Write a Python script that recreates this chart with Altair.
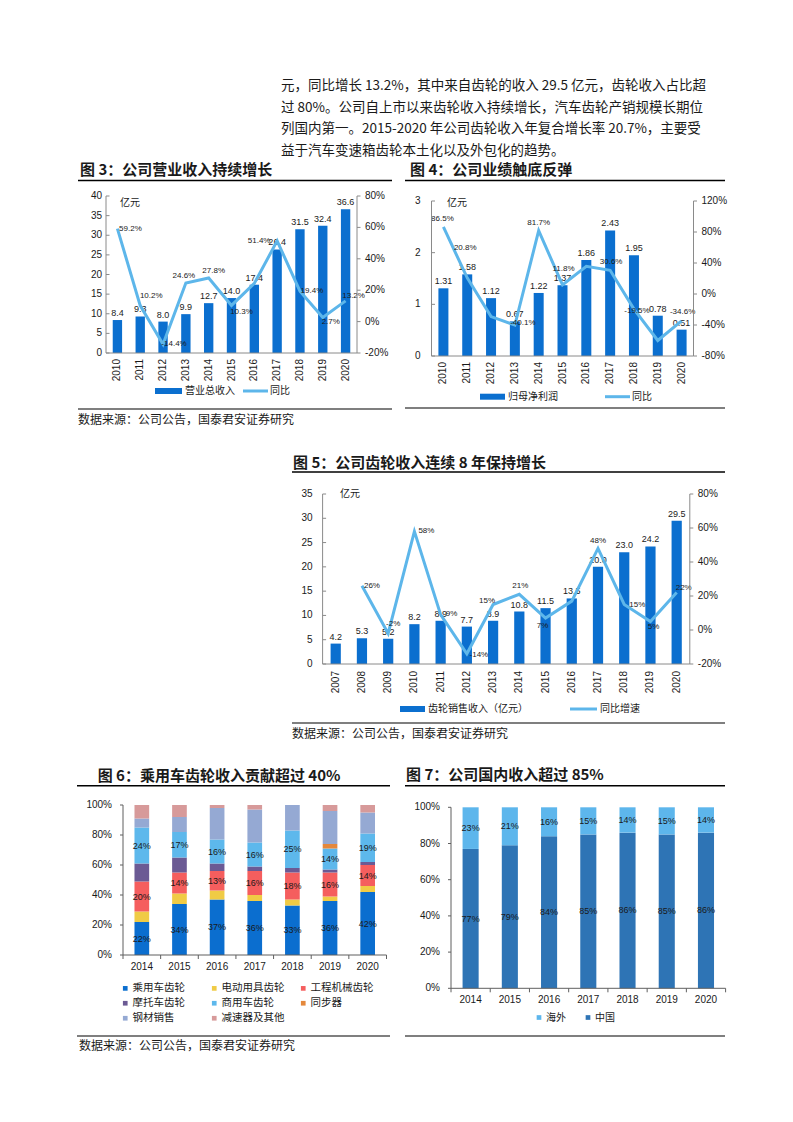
import altair as alt
import pandas as pd

CJK = "Noto Sans CJK SC"
LAT = "Liberation Sans"
INK = "#1a1a1a"
AXC = "#8a8a8a"
AXC2 = "#5f5f5f"
BAR_BLUE = "#0B6FCF"
LINE_BLUE = "#5DB6EA"
W, H = 777, 1100

# ---------------- data ----------------
para_lines = [
    "元，同比增长 13.2%，其中来自齿轮的收入 29.5 亿元，齿轮收入占比超",
    "过 80%。公司自上市以来齿轮收入持续增长，汽车齿轮产销规模长期位",
    "列国内第一。2015-2020 年公司齿轮收入年复合增长率 20.7%，主要受",
    "益于汽车变速箱齿轮本土化以及外包化的趋势。",
]

years_10_20 = ["2010", "2011", "2012", "2013", "2014", "2015", "2016", "2017", "2018", "2019", "2020"]
revenue = [8.4, 9.3, 8.0, 9.9, 12.7, 14.0, 17.4, 26.4, 31.5, 32.4, 36.6]
revenue_yoy = [59.2, 10.2, -14.4, 24.6, 27.8, 10.3, 24.3, 51.4, 19.4, 2.7, 13.2]
revenue_yoy_shown = [True, True, True, True, True, True, False, True, True, True, True]
revenue_ticks = [0, 5, 10, 15, 20, 25, 30, 35, 40]
revenue_yoy_ticks = [-20, 0, 20, 40, 60, 80]

profit = [1.31, 1.58, 1.12, 0.67, 1.22, 1.37, 1.86, 2.43, 1.95, 0.78, 0.51]
profit_yoy = [86.5, 20.8, -29.1, -40.1, 81.7, 11.8, 35.8, 30.6, -19.5, -60.0, -34.6]
profit_yoy_shown = [True, True, False, True, True, True, False, True, True, False, True]
profit_ticks = [0, 1, 2, 3]
profit_yoy_ticks = [-80, -40, 0, 40, 80, 120]

years_07_20 = ["2007", "2008", "2009", "2010", "2011", "2012", "2013", "2014",
               "2015", "2016", "2017", "2018", "2019", "2020"]
gear = [4.2, 5.3, 5.2, 8.2, 8.9, 7.7, 8.9, 10.8, 11.5, 13.5, 20.0, 23.0, 24.2, 29.5]
gear_yoy = [None, 26, -2, 58, 9, -14, 15, 21, 7, 17, 48, 15, 5, 22]
gear_yoy_shown = [False, True, True, True, True, True, True, True, True, False, True, True, True, True]
gear_ticks = [0, 5, 10, 15, 20, 25, 30, 35]
gear_yoy_ticks = [-20, 0, 20, 40, 60, 80]

years_14_20 = ["2014", "2015", "2016", "2017", "2018", "2019", "2020"]
seg_names = ["乘用车齿轮", "电动用具齿轮", "工程机械齿轮", "摩托车齿轮",
             "商用车齿轮", "同步器", "钢材销售", "减速器及其他"]
passenger_gear = [22, 34, 37, 36, 33, 36, 42]
power_tool_gear = [7, 7, 6, 4, 4, 3, 4]
construction_gear = [20, 14, 13, 16, 18, 16, 14]
motorcycle_gear = [12, 10, 5, 3, 3, 2, 2]
commercial_gear = [24, 17, 16, 16, 25, 14, 19]
synchronizer = [0, 0, 0, 0, 0, 3, 0]
steel_sales = [6, 10, 21, 22, 17, 22, 14]
reducer_other = [9, 8, 2, 3, 0, 4, 5]
seg_labelled = ["乘用车齿轮", "工程机械齿轮", "商用车齿轮"]
share_ticks = [0, 20, 40, 60, 80, 100]

region_legend = ["海外", "中国"]
region_stack = ["中国", "海外"]
china_share = [77, 79, 84, 85, 86, 85, 86]
overseas_share = [23, 21, 16, 15, 14, 15, 14]

# ---------------- styles (label offsets, colours, legend order) ----------------
rev_lab_off = [(13, 0), (11, -10), (11, 0), (-2, -7), (5, -7), (10, 7), (0, 0),
               (-18, 0), (12, 0), (8, 5), (8, -5)]
profit_lab_off = [(-1, -8), (-2, -30), (0, 0), (8, -2), (0, -8), (1, -16), (0, 0),
                  (1, -8), (3, 2), (0, 0), (1, -9)]
gear_lab_off = [(0, 0), (10, 0), (5, -9), (12, 0), (11, -1), (12, 1), (-6, -4),
                (1, -8), (-3, 8), (0, 0), (0, -7), (13, 0), (3, 5), (7, -5)]
seg_color_map = {"乘用车齿轮": "#0B6ECF", "电动用具齿轮": "#F0CB45", "工程机械齿轮": "#F55E5E",
                 "摩托车齿轮": "#6B5A94", "商用车齿轮": "#5DB8EC", "同步器": "#E4883C",
                 "钢材销售": "#95A9D3", "减速器及其他": "#D79A9A"}
# legend fills column by column, so list it so that rows read like the reference
seg_legend_order = ["乘用车齿轮", "摩托车齿轮", "钢材销售", "电动用具齿轮",
                    "商用车齿轮", "减速器及其他", "工程机械齿轮", "同步器"]
region_colors = ["#5DB6EC", "#2E74B5"]


def txt(s, x, y, size=10.0, bold=False, font=CJK, color=INK, align="left"):
    return alt.Chart(pd.DataFrame({"t": [s]})).mark_text(
        align=align, baseline="middle", fontSize=size, font=font, color=color,
        fontWeight="bold" if bold else "normal",
    ).encode(text="t:N", x=alt.value(x), y=alt.value(y))


def hline(x1, x2, y, color="#000000", width=1.0):
    return alt.Chart(pd.DataFrame({"r": [0]})).mark_rule(
        color=color, strokeWidth=width
    ).encode(x=alt.value(x1), x2=alt.value(x2), y=alt.value(y))


def vline(x, y1, y2, color=AXC, width=1.0):
    return alt.Chart(pd.DataFrame({"r": [0]})).mark_rule(
        color=color, strokeWidth=width
    ).encode(x=alt.value(x), y=alt.value(y1), y2=alt.value(y2))


def y_ticks(ticks, scale, x1, x2, color):
    return alt.Chart(pd.DataFrame({"t": ticks})).mark_rule(color=color, strokeWidth=1).encode(
        x=alt.value(x1), x2=alt.value(x2), y=alt.Y("t:Q", scale=scale, axis=None))


def y_labels(ticks, scale, x, align, dx, suffix=""):
    df = pd.DataFrame({"t": ticks, "s": [f"{t}{suffix}" for t in ticks]})
    return alt.Chart(df).mark_text(
        align=align, baseline="middle", dx=dx, font=LAT, fontSize=10, color=INK
    ).encode(x=alt.value(x), y=alt.Y("t:Q", scale=scale, axis=None), text="s:N")


def bar_line_panel(years, vals, yoy, shown, offs, val_fmt, pct_dec, xr, yr,
                   ldom, lticks, rdom, rticks, pin, lpad, xpad):
    df = pd.DataFrame({"year": years, "v": vals, "p": yoy})
    df["plab"] = ["" if (p is None or pd.isna(p)) else f"{p:.{pct_dec}f}%" for p in yoy]
    df["show"] = shown
    df["key"] = [f"{a}|{b}" for a, b in offs]
    xs = alt.Scale(domain=years, range=list(xr), paddingInner=pin, paddingOuter=pin / 2)
    ls = alt.Scale(domain=ldom, range=list(yr), nice=False)
    rs = alt.Scale(domain=rdom, range=list(yr), nice=False)
    base = alt.Chart(df)
    xn = alt.X("year:N", scale=xs, axis=None)
    bars = base.mark_bar(color=BAR_BLUE).encode(x=xn, y=alt.Y("v:Q", scale=ls, axis=None))
    blab = base.mark_text(dy=-7, font=LAT, fontSize=9, color=INK).encode(
        x=xn, y=alt.Y("v:Q", scale=ls, axis=None), text=alt.Text("v:Q", format=val_fmt))
    xlab = base.mark_text(angle=270, align="right", baseline="middle", font=LAT,
                          fontSize=10, color=INK).encode(
        x=xn, y=alt.value(yr[0] + xpad), text="year:N")
    left = alt.layer(bars, blab, xlab,
                     y_ticks(lticks, ls, xr[0], xr[0] + 3.5, AXC),
                     y_labels(lticks, ls, xr[0], "right", -lpad))
    line = base.mark_line(color=LINE_BLUE, strokeWidth=3).encode(
        x=xn, y=alt.Y("p:Q", scale=rs, axis=None))
    labs = []
    seen = []
    for (dx, dy), sh in zip(offs, shown):
        key = f"{dx}|{dy}"
        if not sh or key in seen:
            continue
        seen.append(key)
        labs.append(
            base.transform_filter(f"datum.show && datum.key == '{key}'")
            .mark_text(dx=dx, dy=dy, font=LAT, fontSize=8, color=INK)
            .encode(x=xn, y=alt.Y("p:Q", scale=rs, axis=None), text="plab:N"))
    right = alt.layer(line, *labs,
                      y_ticks(rticks, rs, xr[1], xr[1] + 3.5, AXC),
                      y_labels(rticks, rs, xr[1], "left", 8, "%"))
    frame = [vline(xr[0], yr[1], yr[0]), vline(xr[1], yr[1], yr[0]),
             hline(xr[0], xr[1], yr[0], AXC)]
    return alt.layer(left, right, *frame).resolve_scale(y="independent")


def stacked_panel(years, stack_names, series, legend_domain, colors, labelled,
                  xr, yr, pin, legend):
    rows = []
    for k, (n, vs) in enumerate(zip(stack_names, series)):
        for y, v in zip(years, vs):
            rows.append({"year": y, "cat": n, "k": k, "v": v,
                         "lbl": f"{v}%", "show": n in labelled})
    df = pd.DataFrame(rows)
    xs = alt.Scale(domain=years, range=list(xr), paddingInner=pin, paddingOuter=pin / 2)
    ys = alt.Scale(domain=[0, 100], range=list(yr), nice=False)
    xn = alt.X("year:N", scale=xs, axis=None)
    base = alt.Chart(df).transform_stack(
        stack="v", groupby=["year"], sort=[alt.SortField("k", order="ascending")],
        as_=["s0", "s1"])
    bars = base.mark_bar().encode(
        x=xn, y=alt.Y("s0:Q", scale=ys, axis=None), y2="s1:Q",
        color=alt.Color("cat:N", scale=alt.Scale(domain=legend_domain, range=colors),
                        legend=legend))
    labs = base.transform_filter("datum.show").transform_calculate(
        mid="(datum.s0 + datum.s1) / 2"
    ).mark_text(font=LAT, fontSize=9, color=INK).encode(
        x=xn, y=alt.Y("mid:Q", scale=ys, axis=None), text="lbl:N")
    ydf = pd.DataFrame({"year": years})
    xlab = alt.Chart(ydf).mark_text(baseline="middle", font=LAT, fontSize=10, color=INK).encode(
        x=xn, y=alt.value(yr[0] + 11.7), text="year:N")
    main = alt.layer(bars, labs, xlab,
                     y_ticks(share_ticks, ys, xr[0] - 3, xr[0], AXC2),
                     y_labels(share_ticks, ys, xr[0], "right", -11, "%"))
    xt = alt.Chart(ydf).mark_rule(color=AXC2, strokeWidth=1).encode(
        x=alt.X("year:N", scale=alt.Scale(domain=years, range=list(xr), paddingInner=0,
                                          paddingOuter=0), bandPosition=0, axis=None),
        y=alt.value(yr[0]), y2=alt.value(yr[0] + 4))
    frame = [vline(xr[0], yr[1], yr[0], AXC2), hline(xr[0], xr[1], yr[0], AXC2),
             vline(xr[1], yr[0], yr[0] + 4, AXC2)]
    return alt.layer(main, xt, *frame).resolve_scale(x="independent")


# ---------------- paragraph ----------------
para_df = pd.DataFrame({"line": list(range(len(para_lines))), "t": para_lines})
para = alt.Chart(para_df).mark_text(
    align="left", baseline="middle", font=CJK, fontSize=13.5, color=INK
).encode(
    x=alt.value(273),
    y=alt.Y("line:O", scale=alt.Scale(type="point", range=[78, 143.1], padding=0), axis=None),
    text="t:N")

# ---------------- figures ----------------
fig3 = bar_line_panel(years_10_20, revenue, revenue_yoy, revenue_yoy_shown, rev_lab_off,
                      ".1f", 1, (98, 349), (345, 188), [0, 40], revenue_ticks,
                      [-20, 80], revenue_yoy_ticks, 0.59, 4, 6)
fig4 = bar_line_panel(years_10_20, profit, profit_yoy, profit_yoy_shown, profit_lab_off,
                      ".2f", 1, (423.5, 685.5), (348, 193), [0, 3], profit_ticks,
                      [-80, 120], profit_yoy_ticks, 0.58, 11, 6)
fig5 = bar_line_panel(years_07_20, gear, gear_yoy, gear_yoy_shown, gear_lab_off,
                      ".1f", 0, (314.6, 681.8), (656, 486), [0, 35], gear_ticks,
                      [-20, 80], gear_yoy_ticks, 0.61, 10, 7)

leg6 = alt.Legend(orient="none", legendX=112, legendY=975, columns=3, title=None,
                  symbolType="square", symbolSize=22, symbolStrokeWidth=0,
                  labelFont=CJK, labelFontSize=10.5, labelColor=INK, labelOffset=2,
                  columnPadding=13, rowPadding=4, gridAlign="all", padding=0, labelLimit=200)
fig6 = stacked_panel(years_14_20, seg_names,
                     [passenger_gear, power_tool_gear, construction_gear, motorcycle_gear,
                      commercial_gear, synchronizer, steel_sales, reducer_other],
                     seg_legend_order, [seg_color_map[n] for n in seg_legend_order],
                     seg_labelled, (115, 378.5), (947, 797), 0.61, leg6)

leg7 = alt.Legend(orient="none", legendX=526, legendY=1004.5, direction="horizontal",
                  title=None, symbolType="square", symbolSize=22, symbolStrokeWidth=0,
                  labelFont=CJK, labelFontSize=10, labelColor=INK, labelOffset=2,
                  columnPadding=17, padding=0)
fig7 = stacked_panel(years_14_20, region_stack, [china_share, overseas_share],
                     region_legend, region_colors, region_stack,
                     (443, 717.6), (980.3, 799.3), 0.59, leg7)

source = "数据来源：公司公告，国泰君安证券研究"
annotations = [
    # figure 3
    txt("图 3：公司营业收入持续增长", 72, 162, 15, bold=True),
    hline(70, 384, 172.5, width=1.5),
    txt("亿元", 112, 195, 10),
    hline(147, 174, 383, BAR_BLUE, 6), txt("营业总收入", 177, 383, 10),
    hline(235, 260, 383, LINE_BLUE, 3), txt("同比", 262, 383, 10),
    hline(70, 384, 401, width=1.2),
    txt(source, 70, 412, 12),
    # figure 4
    txt("图 4：公司业绩触底反弹", 402, 162, 15, bold=True),
    hline(397, 717, 172.5, width=1.5),
    txt("亿元", 439, 195, 10),
    hline(472, 497, 388.7, BAR_BLUE, 6), txt("归母净利润", 500, 388.7, 10),
    hline(597, 622, 388.7, LINE_BLUE, 3), txt("同比", 624, 388.7, 10),
    hline(397, 717, 400, width=1.2),
    # figure 5
    txt("图 5：公司齿轮收入连续 8 年保持增长", 285, 455, 15, bold=True),
    hline(284, 717, 464, width=1.5),
    txt("亿元", 332, 486, 10),
    hline(392, 417, 701, BAR_BLUE, 6), txt("齿轮销售收入（亿元）", 420, 701, 10),
    hline(562, 589, 701, LINE_BLUE, 3), txt("同比增速", 592, 701, 10),
    hline(284, 717, 715, width=1.2),
    txt(source, 284, 726, 12),
    # figure 6
    txt("图 6：乘用车齿轮收入贡献超过 40%", 89.7, 767.7, 15, bold=True),
    hline(69, 382, 777.7, width=1.5),
    hline(69, 382, 1028, width=1.2),
    txt(source, 71, 1038, 12),
    # figure 7
    txt("图 7：公司国内收入超过 85%", 398, 767, 15, bold=True),
    hline(397, 717, 777.7, width=1.5),
    hline(397, 717, 1028, width=1.2),
]

chart = alt.layer(para, fig3, fig4, fig5, fig6, fig7, *annotations).resolve_scale(
    x="independent", y="independent", color="independent"
).properties(width=W, height=H, padding=0).configure_view(stroke=None)

chart.save("out.html", embed_options={"renderer": "svg", "actions": False})
